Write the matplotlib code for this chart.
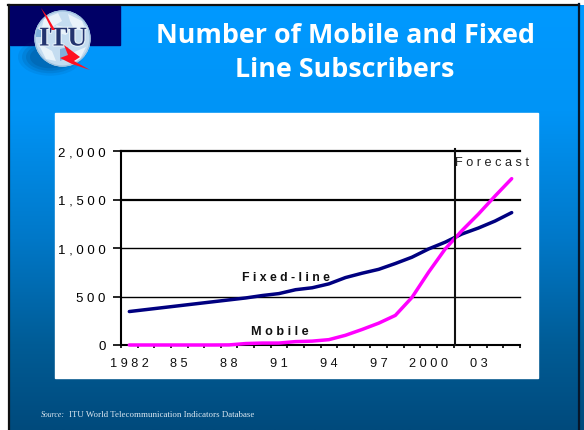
import numpy as np
import matplotlib
matplotlib.use("Agg")
import matplotlib.pyplot as plt
import matplotlib.patches as mpatches
import matplotlib.patheffects as pe
from matplotlib.colors import LinearSegmentedColormap
from matplotlib.ticker import FuncFormatter

W, H = 584, 431

# Subscribers in millions, 1982 to 2005
years = list(range(1982, 2006))
fixed_line = [345, 365, 385, 405, 425, 445, 465, 485, 510, 530, 570, 590,
              630, 695, 740, 780, 840, 905, 990, 1060, 1144, 1206, 1278, 1365]
mobile = [0, 0, 0, 0, 0, 0, 1, 15, 20, 20, 35, 40,
          55, 100, 160, 225, 305, 490, 750, 990, 1178, 1350, 1536, 1715]
y_ticks = [0, 500, 1000, 1500, 2000]
x_labels = {1982: "1982", 1985: "85", 1988: "88", 1991: "91",
            1994: "94", 1997: "97", 2000: "2000", 2003: "03"}

fig = plt.figure(figsize=(W / 100, H / 100), dpi=100, facecolor="white")
plt.rcParams["font.family"] = ["Liberation Sans", "DejaVu Sans"]

# Slide background, drawn in pixel coordinates
bg = fig.add_axes([0, 0, 1, 1])
bg.set_xlim(0, W)
bg.set_ylim(H, 0)
bg.axis("off")

slide_cmap = LinearSegmentedColormap.from_list(
    "slide", [(0, "#0099ff"), (0.25, "#0094f6"), (0.55, "#0078c8"),
              (0.8, "#005c96"), (1, "#004a7c")])
gradient = np.linspace(0, 1, 256).reshape(-1, 1)
bg.imshow(gradient, cmap=slide_cmap, extent=(9, 584, 431, 6), aspect="auto", zorder=0)
bg.set_xlim(0, W)
bg.set_ylim(H, 0)
bg.plot([8.5, 8.5], [431, 5.5], color="#101010", lw=1.6, zorder=1)
bg.plot([8, 579], [5.5, 5.5], color="#101010", lw=1.6, zorder=1)
bg.plot([578.5, 578.5], [5, 431], color="#06162a", lw=1.6, zorder=1)

# Logo: navy block, soft shadow, globe, lightning and lettering
bg.add_patch(mpatches.Rectangle((10, 7), 110, 39, color="#000066", zorder=2))
for r, a in [(30, 0.10), (26, 0.14), (22, 0.18), (18, 0.2)]:
    bg.add_patch(mpatches.Ellipse((50, 58), 2 * r + 4, 1.25 * r, color="#00407a", alpha=a, lw=0, zorder=2))
bg.add_patch(mpatches.Circle((62.5, 39.5), 27.5, color="#c4dcf0", zorder=3))
land = [[(44, 20), (58, 14), (62, 22), (52, 28), (42, 28)],
        [(68, 15), (82, 22), (86, 32), (74, 30), (70, 22)],
        [(38, 44), (52, 52), (56, 62), (46, 60)],
        [(72, 54), (86, 48), (80, 60), (70, 64)],
        [(56, 26), (70, 30), (66, 36), (58, 34)]]
for outline in land:
    bg.add_patch(mpatches.Polygon(outline, closed=True, color="#eef6fc", alpha=0.9, lw=0, zorder=3))
for outline in [[(60, 50), (68, 48), (70, 58), (60, 62)], [(36, 30), (42, 30), (42, 38), (36, 38)]]:
    bg.add_patch(mpatches.Polygon(outline, closed=True, color="#6ea6d6", alpha=0.8, lw=0, zorder=3))
bg.add_patch(mpatches.Circle((62.5, 39.5), 27.5, fill=False, ec="#9cc0de", lw=0.8, zorder=3))
bg.text(63, 40, "ITU", color="#23346f", fontsize=19.5, fontweight="bold", ha="center",
        va="center", family="Liberation Serif", zorder=5,
        path_effects=[pe.withStroke(linewidth=1.6, foreground="#e8f2fa")])
bg.add_patch(mpatches.Polygon([(41, 9), (47, 17), (55, 31), (52, 31)],
                              closed=True, color="#ff1020", lw=0, zorder=6))
bg.add_patch(mpatches.Polygon(
    [(64, 46), (72, 52), (80, 58), (74, 62), (90, 71), (72, 65), (60, 59), (68, 56)],
    closed=True, color="#ff1020", lw=0, zorder=6))

# Slide title
bg.text(345, 36, "Number of Mobile and Fixed", color="white", fontsize=19.4,
        fontweight="bold", ha="center", va="center", family="Open Sans", zorder=5)
bg.text(345, 70, "Line Subscribers", color="white", fontsize=19.4,
        fontweight="bold", ha="center", va="center", family="Open Sans", zorder=5)

# White chart panel
bg.add_patch(mpatches.Rectangle((55, 114), 483, 265, color="white", zorder=2))

bg.text(41, 415, "Source:", color="#dce8f2", fontsize=5.6, style="italic", va="center",
        family="Liberation Serif", zorder=5)
bg.text(69, 415, "ITU World Telecommunication Indicators Database", color="#dce8f2",
        fontsize=6.4, va="center", family="Liberation Serif", zorder=5)

# Chart axes: one category slot per year
left, right, top, bottom = 121, 520, 152, 346
ax = fig.add_axes([left / W, 1 - bottom / H, (right - left) / W, (bottom - top) / H])
ax.patch.set_alpha(0)
x = np.arange(len(years))
ax.set_xlim(-0.5, len(years) - 0.5)
ax.set_ylim(0, 2000)

for v, lw in zip(y_ticks[1:], [1, 1, 1.6, 1.6]):
    ax.axhline(v, color="black", lw=lw, zorder=1, clip_on=False)
ax.plot(x, fixed_line, color="#000080", lw=2.5, zorder=3, solid_capstyle="round")
ax.plot(x, mobile, color="#ff00ff", lw=2.5, zorder=4, solid_capstyle="round", clip_on=False)
ax.plot([19.6] * 2, [0, 2025], color="#111111", lw=1.5, zorder=5, clip_on=False)

for side in ("top", "right"):
    ax.spines[side].set_visible(False)
ax.spines["left"].set_linewidth(1.5)
ax.spines["bottom"].set_linewidth(1.5)

ax.set_yticks(y_ticks)
ax.yaxis.set_major_formatter(FuncFormatter(lambda v, _: " ".join(f"{int(v):,}")))
ax.tick_params(axis="y", length=6, width=1.2, labelsize=9.5, pad=5, colors="black")
ax.set_xticks(np.arange(len(years) + 1) - 0.5)
ax.set_xticklabels([])
ax.tick_params(axis="x", length=2.5, width=1.2, direction="out")

for yr, lab in x_labels.items():
    ax.text(years.index(yr), -190, " ".join(lab), fontsize=9.2, ha="center", va="center",
            color="#111111", clip_on=False)

ax.text(9.42, 700, " ".join("Fixed-line"), fontsize=8.8, fontweight="bold", ha="center",
        va="center", color="#111111", zorder=6)
ax.text(9.03, 148, " ".join("Mobile"), fontsize=9.1, fontweight="bold", ha="center",
        va="center", color="#111111", zorder=6)
ax.text(19.62, 1885, " ".join("Forecast"), fontsize=9.2, ha="left", va="center",
        color="#222222", zorder=6, clip_on=False)

fig.savefig("out.png", dpi=100, facecolor="white")
